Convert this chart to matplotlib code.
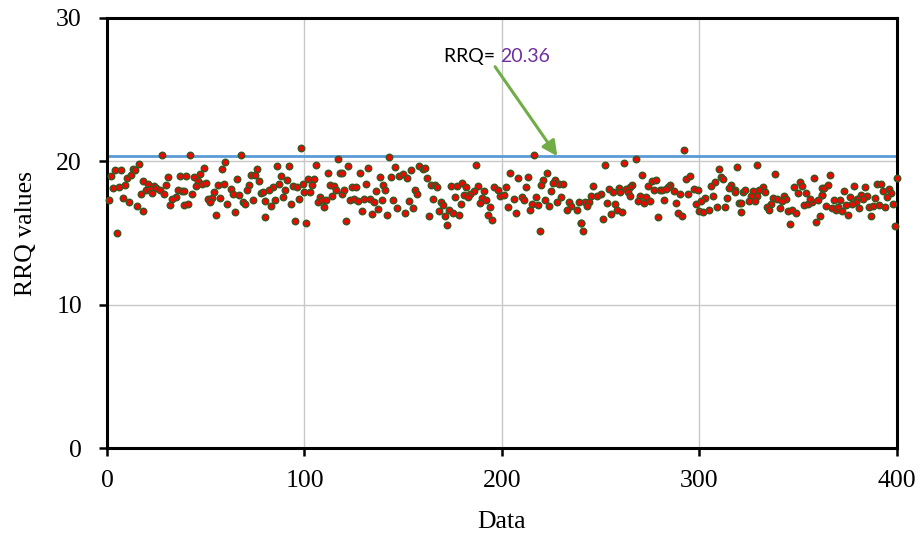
import matplotlib
matplotlib.use("Agg")
import matplotlib.pyplot as plt

# Observations (index, RRQ value)
data_x = [
    28, 16, 4, 7, 13, 14, 2, 10, 12, 31, 18, 21, 24, 3, 6, 9, 20, 22, 25, 27, 30, 36, 38,
    17, 23, 29, 35, 33, 1, 8, 11, 15, 18, 32, 5,
    42, 68, 60, 58, 49, 76, 37, 40, 44, 47, 46, 45, 48, 50, 56, 59, 66, 73, 75, 77, 72, 71,
    63, 64, 67, 54, 39, 43, 51, 53, 57, 52, 61, 69, 70, 74, 78, 39, 41, 55, 65,
    98, 86, 92, 106, 117, 88, 91, 87, 84, 82, 79, 94, 96, 99, 102, 105, 104, 112, 118, 113,
    115, 116, 119, 100, 103, 90, 89, 85, 80, 83, 97, 93, 108, 107, 109, 111, 114, 110, 80,
    95, 101,
    143, 122, 132, 146, 154, 158, 160, 119, 128, 138, 144, 148, 150, 152, 131, 140, 124, 126,
    120, 141, 136, 156, 157, 123, 125, 127, 130, 133, 135, 139, 145, 153, 137, 147, 155, 129,
    134, 142, 151, 121,
    187, 161, 162, 164, 166, 167, 174, 177, 180, 182, 188, 196, 198, 199, 191, 186, 184, 181,
    183, 176, 190, 192, 189, 165, 169, 170, 179, 194, 173, 175, 178, 168, 171, 163, 193, 195,
    172,
    216, 204, 208, 213, 223, 221, 220, 227, 226, 229, 231, 202, 212, 225, 201, 206, 210, 211,
    217, 222, 230, 228, 234, 239, 215, 218, 224, 235, 233, 238, 203, 207, 214, 240, 241, 219,
    268, 252, 262, 271, 246, 276, 278, 274, 277, 280, 266, 265, 254, 256, 259, 260, 263, 264,
    265, 250, 248, 245, 242, 244, 243, 253, 257, 270, 273, 269, 272, 275, 258, 261, 255, 251,
    279, 240,
    292, 310, 319, 293, 295, 311, 312, 285, 284, 281, 283, 287, 290, 294, 297, 299, 306, 308,
    316, 315, 318, 318, 322, 282, 288, 298, 303, 301, 307, 314, 320, 300, 302, 305, 309, 313,
    321, 289, 291,
    329, 338, 358, 351, 352, 348, 332, 323, 327, 330, 333, 350, 354, 362, 362, 326, 329, 337,
    339, 343, 344, 342, 325, 328, 336, 334, 335, 341, 345, 347, 349, 353, 355, 357, 360, 356,
    361, 359, 346, 321,
    366, 400, 363, 365, 362, 373, 378, 384, 390, 392, 396, 393, 397, 395, 389, 385, 382, 383,
    380, 376, 379, 377, 374, 371, 368, 364, 367, 369, 370, 372, 375, 381, 386, 388, 391, 394,
    398, 387, 399,
]
data_y = [
    20.43, 19.82, 19.38, 19.38, 19.47, 19.38, 18.96, 18.87, 19.08, 18.89, 18.66, 18.45, 18.31,
    18.14, 18.21, 18.35, 17.98, 18.07, 18.14, 18.00, 18.33, 18.00, 17.91,
    17.75, 17.79, 17.75, 17.52, 17.38, 17.31, 17.45, 17.14, 16.86, 16.56, 16.98, 14.98,
    20.47, 20.47, 19.94, 19.47, 19.54, 19.47, 18.96, 18.96, 18.89, 19.12, 18.61, 18.31, 18.42,
    18.47, 18.33, 18.45, 18.80, 19.05, 19.08, 18.66, 18.33, 18.03,
    18.10, 17.75, 17.68, 17.84, 17.91, 17.72, 17.38, 17.45, 17.45, 17.14, 17.05, 17.17, 17.03,
    17.33, 17.77, 16.98, 17.05, 16.28, 16.49,
    20.94, 19.70, 19.66, 19.77, 20.17, 19.01, 18.73, 18.42, 18.21, 18.00, 17.84, 18.28, 18.21,
    18.42, 18.80, 18.80, 18.35, 19.17, 19.19, 18.33, 18.31, 18.03, 17.75, 17.86, 17.84, 17.98,
    17.54, 17.28, 17.22, 16.86, 17.38, 17.03, 17.52, 17.17, 17.31, 17.31, 17.59, 16.79, 16.14,
    15.86, 15.70,
    20.29, 19.66, 19.56, 19.61, 19.40, 19.70, 19.47, 19.19, 19.19, 18.91, 18.89, 18.96, 19.12,
    18.84, 18.45, 18.33, 18.19, 18.24, 18.00, 18.03, 17.91, 18.00, 17.75, 17.28, 17.38, 17.26,
    17.40, 17.35, 17.17, 17.31, 17.28, 17.26, 16.70, 16.72, 16.72, 16.51, 16.35, 16.23, 16.37,
    15.86,
    19.77, 19.54, 18.84, 18.38, 18.35, 18.21, 18.31, 18.31, 18.47, 18.19, 18.28, 18.19, 18.03,
    17.61, 17.96, 17.91, 17.75, 17.68, 17.52, 17.54, 17.45, 17.28, 17.10, 17.38, 17.14, 16.98,
    17.00, 16.82, 16.61, 16.42, 16.23, 16.51, 16.16, 16.16, 16.28, 15.93, 15.56,
    20.47, 19.19, 18.87, 18.89, 19.17, 18.68, 18.33, 18.73, 18.49, 18.40, 18.40, 18.19, 18.21,
    17.91, 17.63, 17.40, 17.52, 17.31, 17.49, 17.33, 17.49, 17.14, 17.19, 17.19, 17.03, 16.93,
    16.86, 16.91, 16.58, 16.58, 16.79, 16.42, 16.58, 15.72, 15.16, 15.12,
    20.17, 19.73, 19.87, 19.08, 18.26, 18.61, 18.68, 18.26, 17.98, 17.98, 18.38, 18.21, 18.07,
    17.86, 18.14, 17.84, 18.10, 17.84, 17.61, 17.72, 17.61, 17.61, 17.14, 17.14, 16.86, 17.10,
    17.05, 17.56, 17.52, 17.26, 17.10, 17.26, 16.63, 16.49, 16.30, 15.98, 16.09, 15.70,
    20.82, 19.49, 19.63, 18.80, 18.96, 18.89, 18.77, 18.33, 18.21, 18.03, 18.07, 17.91, 17.72,
    17.72, 18.07, 17.98, 18.31, 18.54, 18.38, 18.14, 18.03, 17.84, 17.84, 17.33, 17.07, 17.03,
    17.45, 17.22, 17.56, 17.45, 17.12, 16.56, 16.47, 16.63, 16.79, 16.82, 16.49, 16.40, 16.16,
    19.77, 19.12, 18.84, 18.56, 18.26, 18.21, 18.21, 18.00, 17.91, 18.03, 17.86, 17.79, 17.79,
    18.14, 17.68, 17.61, 17.56, 17.45, 17.38, 17.61, 17.40, 17.22, 17.22, 17.26, 17.05, 16.79,
    16.58, 16.77, 16.51, 16.61, 16.37, 16.93, 17.05, 17.17, 17.28, 17.40, 16.16, 15.77, 15.65,
    17.10,
    19.03, 18.84, 18.14, 18.33, 17.63, 17.91, 18.31, 18.21, 18.42, 18.42, 18.10, 17.96, 17.79,
    17.52, 17.45, 17.56, 17.63, 17.40, 17.38, 17.49, 17.19, 17.05, 16.98, 17.28, 17.28, 16.91,
    16.75, 16.63, 16.79, 16.56, 16.23, 16.72, 16.82, 16.89, 16.98, 16.82, 17.03, 16.16, 15.47,
]

rrq_limit = 20.36
x_ticks = [0, 100, 200, 300, 400]
y_ticks = [0, 10, 20, 30]

serif = ["Liberation Serif", "DejaVu Serif"]
label_font = ["Lato", "DejaVu Sans"]

fig = plt.figure(figsize=(9.2, 5.37), dpi=100)
ax = fig.add_axes([0.1163, 0.1657, 0.8587, 0.8008])

ax.set_xlim(0, 400)
ax.set_ylim(0, 30)
ax.set_xticks(x_ticks)
ax.set_yticks(y_ticks)
ax.grid(True, color="#c8c8c8", linewidth=1.0, zorder=0)
ax.set_axisbelow(True)

for s in ax.spines.values():
    s.set_color("black")
    s.set_linewidth(2.2)

ax.tick_params(direction="out", length=6, width=1.8, color="black",
               labelsize=18.5)
ax.tick_params(axis="x", pad=9.5)
ax.tick_params(axis="y", pad=12)
for lab in ax.get_xticklabels() + ax.get_yticklabels():
    lab.set_fontfamily(serif)

# Threshold line
ax.plot([x_ticks[0], x_ticks[-1]], [rrq_limit, rrq_limit], color="#5b9bd5",
        linewidth=2.0, zorder=2)

# Data points
ax.plot(data_x, data_y, linestyle="none", marker="o", markersize=4.6,
        markerfacecolor="#ff0000", markeredgecolor="#385723",
        markeredgewidth=1.1, zorder=3, clip_on=False)

ax.set_xlabel("Data", fontsize=18.5, family=serif, labelpad=14)
ax.set_ylabel("RRQ values", fontsize=18.5, family=serif, labelpad=14)

# Annotation for the threshold value
ax.annotate("", xy=(228, rrq_limit), xytext=(196.5, 26.6),
            arrowprops=dict(arrowstyle="-|>,head_length=0.9,head_width=0.45",
                            color="#70ad47", lw=2.2, shrinkA=0, shrinkB=0),
            zorder=4)
ax.text(199.0, 27.3, "RRQ= ", ha="right", va="center", fontsize=14,
        family=label_font, color="black")
ax.text(199.0, 27.3, "20.36", ha="left", va="center", fontsize=14,
        family=label_font, color="#7030a0")

fig.savefig("out.png", dpi=100, facecolor="white")
